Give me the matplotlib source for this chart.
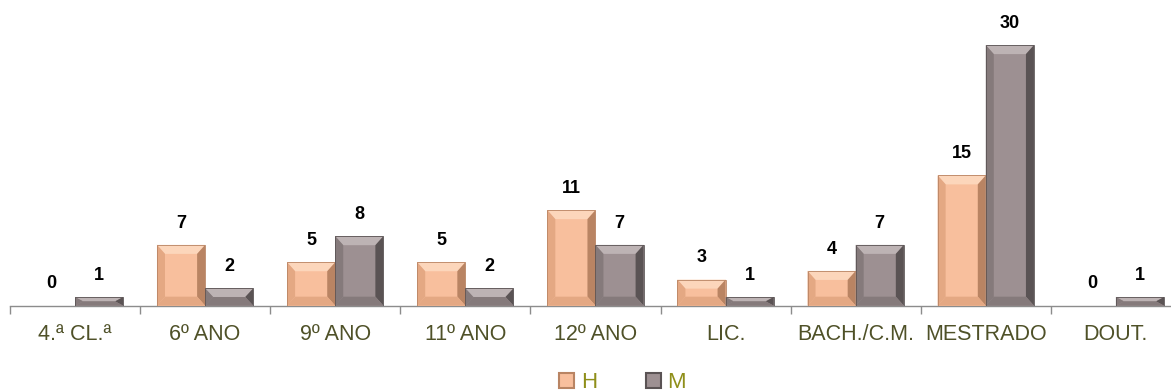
import matplotlib
matplotlib.use("Agg")
import matplotlib.pyplot as plt
from matplotlib.patches import Polygon, Patch
import numpy as np

categories = ["4.ª CL.ª", "6º ANO", "9º ANO", "11º ANO", "12º ANO", "LIC.",
              "BACH./C.M.", "MESTRADO", "DOUT."]
h_vals = [0, 7, 5, 5, 11, 3, 4, 15, 0]
m_vals = [1, 2, 8, 2, 7, 1, 7, 30, 1]

H_FACE, H_TOP, H_SIDE, H_DARK = "#f8bf9d", "#fcd6bb", "#e4a883", "#b98463"
M_FACE, M_TOP, M_SIDE, M_DARK = "#9d9092", "#bdb3b4", "#857a7b", "#5a5354"
TICK_COL = "#4f5128"
LEG_COL = "#8f8f1a"

plt.rcParams["font.family"] = ["Liberation Sans", "DejaVu Sans"]

fig = plt.figure(figsize=(11.71, 3.92), dpi=100)
ax = fig.add_axes([0.0085, 0.2202, 1.0, 0.7755])

x = np.arange(len(categories))
w = 0.37
PX_X = 1.0 / 130.1          # data units per pixel, x
PX_Y = 35.0 / 304.0         # data units per pixel, y


def bevel(ax, bar, top, side, dark):
    x0, y0 = bar.get_x(), bar.get_y()
    bw, bh = bar.get_width(), bar.get_height()
    if bh <= 0:
        return
    bx = min(8 * PX_X, bw / 2.0)
    by = min(9 * PX_Y, bh / 2.0)
    x1, y1 = x0 + bw, y0 + bh
    polys = [
        ([(x0, y1), (x1, y1), (x1 - bx, y1 - by), (x0 + bx, y1 - by)], top),
        ([(x0, y0), (x0, y1), (x0 + bx, y1 - by), (x0 + bx, y0 + by)], side),
        ([(x1, y0), (x1, y1), (x1 - bx, y1 - by), (x1 - bx, y0 + by)], dark),
        ([(x0, y0), (x1, y0), (x1 - bx, y0 + by), (x0 + bx, y0 + by)], side),
    ]
    for pts, c in polys:
        ax.add_patch(Polygon(pts, closed=True, facecolor=c, edgecolor="none",
                             zorder=4))
    ax.add_patch(Polygon([(x0, y0), (x0, y1), (x1, y1), (x1, y0)], closed=True,
                         facecolor="none", edgecolor=dark, linewidth=0.6,
                         zorder=5))


bars_h = ax.bar(x - w / 2, h_vals, w, color=H_FACE, zorder=3)
bars_m = ax.bar(x + w / 2, m_vals, w, color=M_FACE, zorder=3)
for b in bars_h:
    bevel(ax, b, H_TOP, H_SIDE, H_DARK)
for b in bars_m:
    bevel(ax, b, M_TOP, M_SIDE, M_DARK)

for xi, v in zip(x, h_vals):
    ax.text(xi - w / 2, v + 2.5, str(v), ha="center", va="center",
            fontsize=13, fontweight="bold", color="black")
for xi, v in zip(x, m_vals):
    ax.text(xi + w / 2, v + 2.5, str(v), ha="center", va="center",
            fontsize=13, fontweight="bold", color="black")

ax.set_xlim(-0.5, len(categories) - 0.5)
ax.set_ylim(0, 35)
ax.set_yticks([])
for s in ("top", "right", "left"):
    ax.spines[s].set_visible(False)
ax.spines["bottom"].set_color("#8c8c8c")
ax.spines["bottom"].set_linewidth(1.0)

ax.set_xticks(x)
ax.set_xticklabels(categories, fontsize=15.5, color=TICK_COL)
ax.tick_params(axis="x", length=0, pad=13)
ax.set_xticks(np.arange(len(categories) + 1) - 0.5, minor=True)
ax.tick_params(axis="x", which="minor", length=6, color="#8c8c8c", width=1.0)

handles = [Patch(facecolor=H_FACE, edgecolor=H_DARK, linewidth=1.5),
           Patch(facecolor=M_FACE, edgecolor=M_DARK, linewidth=1.5)]
fig.legend(handles, ["H", "M"], loc="center left", ncol=2, frameon=False,
           bbox_to_anchor=(0.4774, 0.024), borderaxespad=0, borderpad=0,
           fontsize=16, labelcolor=LEG_COL,
           handlelength=0.68, handleheight=0.63, handletextpad=0.3,
           columnspacing=2.2)

fig.savefig("out.png", dpi=100)
